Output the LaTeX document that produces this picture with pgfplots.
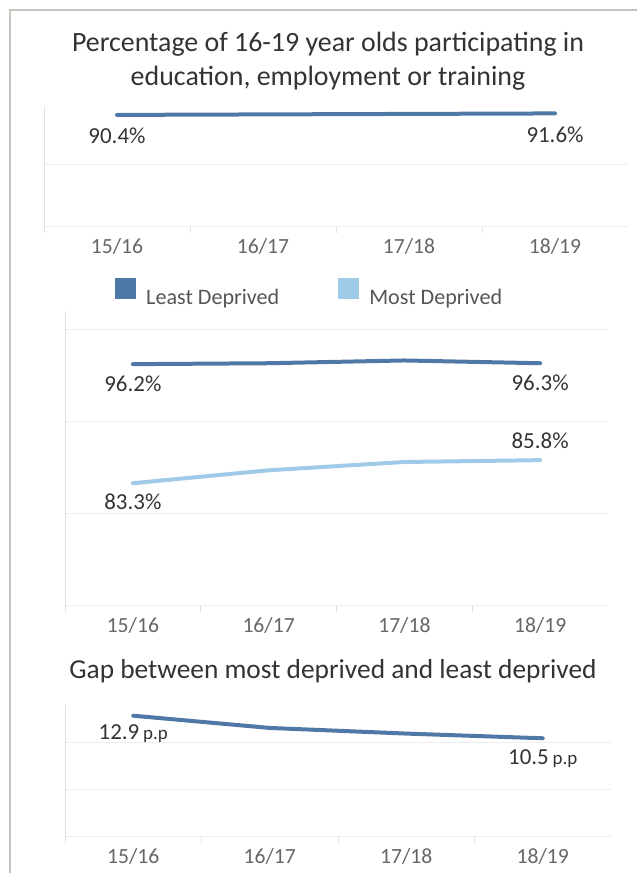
\documentclass[border=0pt]{standalone}
\usepackage{fontspec}
\setmainfont{Carlito}
\usepackage{pgfplots}
\pgfplotsset{compat=1.18}

\definecolor{dark}{HTML}{4E79A7}
\definecolor{light}{HTML}{A0CBE8}
\definecolor{gridc}{HTML}{EEEEEE}
\definecolor{axisc}{HTML}{E0E0E0}
\definecolor{framec}{HTML}{C4C4BC}
\definecolor{titlec}{HTML}{333333}
\definecolor{tickc}{HTML}{666666}
\definecolor{labc}{HTML}{333333}
\definecolor{legc}{HTML}{555555}

\newcommand{\tfont}{\fontsize{28}{28}\selectfont}
\newcommand{\gfont}{\fontsize{27.5}{27.5}\selectfont}
\newcommand{\kfont}{\fontsize{21.7}{21.7}\selectfont}
\newcommand{\lfont}{\fontsize{23}{23}\selectfont}
\newcommand{\efont}{\fontsize{22.2}{22.2}\selectfont}
\newcommand{\pfont}{\fontsize{19}{19}\selectfont}

\pgfplotsset{panel/.style={
  scale only axis,
  xmin=-0.5, xmax=3.5,
  xtick={0,1,2,3},
  xticklabels={15/16,16/17,17/18,18/19},
  minor xtick={-0.5,0.5,1.5,2.5},
  separate axis lines,
  axis x line*=bottom, axis y line*=left,
  x axis line style={draw=none},
  y axis line style={draw=axisc, line width=1bp, -},
  tick align=outside,
  major tick length=0pt,
  minor tick length=6bp,
  minor x tick style={draw=axisc, line width=1bp},
  major y tick style={draw=none},
  yticklabels={},
  ymajorgrids,
  major grid style={draw=gridc, line width=1bp},
  xticklabel style={font=\kfont, text=tickc, anchor=center, yshift=-19bp},
  clip=false,
  }}

\begin{document}
\begin{tikzpicture}[x=1bp,y=1bp]
\useasboundingbox (0,0) rectangle (637,873);
\draw[framec, line width=1.5bp] (10,0) -- (10,863) -- (637,863);

\node[anchor=base, font=\tfont, text=titlec] at (328,821) {Percentage of 16-19 year olds participating in};
\node[anchor=base, font=\tfont, text=titlec] at (328,787) {education, employment or training};

\begin{axis}[panel, at={(44bp,646bp)}, anchor=south west, width=584bp, height=120bp,
  ymin=0, ymax=96.8, ytick={0,50}]
\addplot[dark, line width=4bp, line cap=round] coordinates {(0,90.4)(1,90.8)(2,91.2)(3,91.6)};
\node[font=\lfont, text=labc, yshift=-21bp] at (axis cs:0,90.4) {90.4\%};
\node[font=\lfont, text=labc, yshift=-21bp] at (axis cs:3,91.6) {91.6\%};
\end{axis}

\begin{axis}[panel, at={(65bp,267bp)}, anchor=south west, width=543bp, height=295bp,
  ymin=70, ymax=101.96, ytick={70,80,90,100},
  legend style={at={(0.0921,1.1119)}, anchor=north west, draw=none, fill=none,
    inner sep=0pt, font=\efont, text=legc, legend columns=2,
    nodes={inner sep=0pt},
    /tikz/every odd column/.append style={column sep=10bp},
    /tikz/every even column/.append style={column sep=59bp}},
  legend cell align=left,
  legend image code/.code={\fill[#1,draw=none] (0bp,-2bp) rectangle (21bp,19bp);}]
\addplot[dark, line width=4bp, line cap=round] coordinates {(0,96.2)(1,96.3)(2,96.6)(3,96.3)};
\addlegendentry{Least Deprived}
\addplot[light, line width=4bp, line cap=round] coordinates {(0,83.3)(1,84.7)(2,85.6)(3,85.8)};
\addlegendentry{Most Deprived}
\node[font=\lfont, text=labc, yshift=-20bp] at (axis cs:0,96.2) {96.2\%};
\node[font=\lfont, text=labc, yshift=-20bp] at (axis cs:3,96.3) {96.3\%};
\node[font=\lfont, text=labc, yshift=19bp] at (axis cs:3,85.8) {85.8\%};
\node[font=\lfont, text=labc, yshift=-19bp] at (axis cs:0,83.3) {83.3\%};
\end{axis}

\node[anchor=base, font=\gfont, text=titlec] at (333,194) {Gap between most deprived and least deprived};

\begin{axis}[panel, at={(65bp,36bp)}, anchor=south west, width=546bp, height=132bp,
  ymin=0, ymax=14.04, ytick={0,5,10}]
\addplot[dark, line width=4bp, line cap=round] coordinates {(0,12.9)(1,11.6)(2,11.0)(3,10.5)};
\node[font=\lfont, text=labc, yshift=-18bp] at (axis cs:0,12.9) {12.9\,{\pfont p.p}};
\node[font=\lfont, text=labc, yshift=-20bp] at (axis cs:3,10.5) {10.5\,{\pfont p.p}};
\end{axis}
\end{tikzpicture}
\end{document}
